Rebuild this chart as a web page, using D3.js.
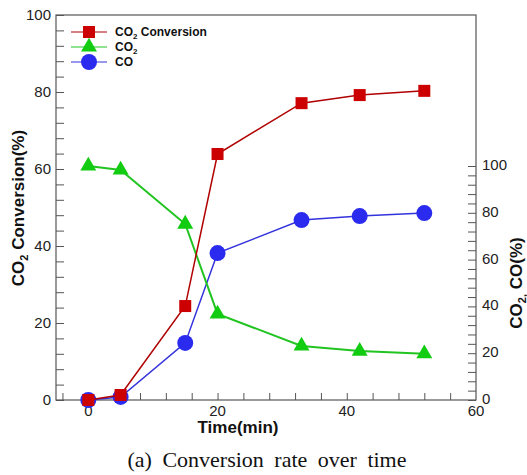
<!DOCTYPE html>
<html>
<head>
  <meta charset="utf-8">
  <script src="https://cdnjs.cloudflare.com/ajax/libs/d3/7.8.5/d3.min.js"></script>
  <style>
    body { margin: 0; background: #fff; }
  </style>
</head>
<body>
<script>
// time points (min)
var tiempo = [0, 5, 15, 20, 33, 42, 52];
// CO2 conversion, left axis (%)
var conversion = [0, 1.3, 24.4, 63.9, 77.1, 79.2, 80.3];
// right axis (%)
var co2 = [100, 98.3, 75.2, 36.8, 23.1, 20.9, 19.8];
var co = [0, 1.3, 24.4, 62.8, 76.9, 78.6, 79.9];

var xTicks = [0, 20, 40, 60];
var yTicks = [0, 20, 40, 60, 80, 100];
var y2Ticks = [0, 20, 40, 60, 80, 100];

var W = 527, H = 475;
var L = 56, R = 476, T = 15, B = 400;

var svg = d3.select("body").append("svg").attr("width", W).attr("height", H)
  .attr("font-family", "Arial, 'Liberation Sans', sans-serif");

var x = d3.scaleLinear().domain([-5, 60]).range([L, R]);
var y = d3.scaleLinear().domain([0, 100]).range([B, T]);
var y2 = d3.scaleLinear().domain([0, 100]).range([B, 166]);

// frame
svg.append("rect").attr("x", L).attr("y", T).attr("width", R - L).attr("height", B - T)
  .attr("fill", "none").attr("stroke", "#555").attr("stroke-width", 1.2);

// axes with inward ticks
var ejeX = svg.append("g").attr("transform", "translate(0," + B + ")")
  .call(d3.axisBottom(x).tickValues(d3.range(-4, 60, 4)).tickSize(-7).tickFormat(""));
var ejeY = svg.append("g").attr("transform", "translate(" + L + ",0)")
  .call(d3.axisLeft(y).tickValues(d3.range(0, 101, 4)).tickSize(-8).tickFormat(""));
var ejeY2 = svg.append("g").attr("transform", "translate(" + R + ",0)")
  .call(d3.axisRight(y2).tickValues(d3.range(0, 101, 4)).tickSize(-8).tickFormat(""));
[ejeX, ejeY, ejeY2].forEach(function(g) {
  g.select(".domain").remove();
  g.selectAll("line").attr("stroke", "#555");
});

// tick labels
svg.selectAll(".xl").data(xTicks).enter().append("text")
  .attr("x", function(d) { return x(d); }).attr("y", B + 16)
  .attr("text-anchor", "middle").attr("font-size", 15).attr("fill", "#222")
  .text(function(d) { return d; });
svg.selectAll(".yl").data(yTicks).enter().append("text")
  .attr("x", L - 5).attr("y", function(d) { return y(d) + 5; })
  .attr("text-anchor", "end").attr("font-size", 15).attr("fill", "#222")
  .text(function(d) { return d; });
svg.selectAll(".y2l").data(y2Ticks).enter().append("text")
  .attr("x", R + 6).attr("y", function(d) { return y2(d) + 4; })
  .attr("font-size", 15).attr("fill", "#222")
  .text(function(d) { return d; });

// series
var series = [
  {vals: co, esc: y2, color: "#2b2bef", linea: "#3333dd", marca: "circle"},
  {vals: co2, esc: y2, color: "#11cc11", linea: "#22c422", marca: "triangle"},
  {vals: conversion, esc: y, color: "#cc0000", linea: "#b00000", marca: "square"}
];

function marker(g, tipo, cx, cy, color) {
  if (tipo == "circle") {
    g.append("circle").attr("cx", cx).attr("cy", cy).attr("r", 8).attr("fill", color);
  } else if (tipo == "square") {
    g.append("rect").attr("x", cx - 6).attr("y", cy - 6).attr("width", 12).attr("height", 12).attr("fill", color);
  } else {
    g.append("path").attr("transform", "translate(" + cx + "," + cy + ")")
      .attr("d", d3.symbol(d3.symbolTriangle, 110)()).attr("fill", color);
  }
}

series.forEach(function(s) {
  var linea = d3.line().x(function(d, i) { return x(tiempo[i]); }).y(function(d) { return s.esc(d); });
  svg.append("path").datum(s.vals).attr("d", linea)
    .attr("fill", "none").attr("stroke", s.linea).attr("stroke-width", s.marca == "triangle" ? 2 : 1.5);
  var g = svg.append("g");
  s.vals.forEach(function(v, i) { marker(g, s.marca, x(tiempo[i]), s.esc(v), s.color); });
});

// legend
var leyenda = [
  {t: "CO", sub: "2", rest: " Conversion", color: "#cc0000", linea: "#b00000", marca: "square"},
  {t: "CO", sub: "2", rest: "", color: "#11cc11", linea: "#22c422", marca: "triangle"},
  {t: "CO", sub: "", rest: "", color: "#2b2bef", linea: "#3333dd", marca: "circle"}
];
leyenda.forEach(function(d, i) {
  var yy = 32 + i * 15;
  svg.append("line").attr("x1", 71).attr("x2", 107).attr("y1", yy).attr("y2", yy)
    .attr("stroke", d.linea).attr("stroke-width", 1);
  var g = svg.append("g");
  marker(g, d.marca, 89, yy, d.color);
  var tx = svg.append("text").attr("x", 115).attr("y", yy + 4)
    .attr("font-size", 12).attr("font-weight", "bold").attr("fill", "#111");
  tx.append("tspan").text(d.t);
  if (d.sub) tx.append("tspan").attr("font-size", 8).attr("dy", 3).text(d.sub);
  if (d.rest) tx.append("tspan").attr("dy", -3).text(d.rest);
});

// axis titles
var tY = svg.append("text").attr("transform", "translate(24,208) rotate(-90)")
  .attr("text-anchor", "middle").attr("font-size", 17).attr("font-weight", "bold").attr("fill", "#111");
tY.append("tspan").text("CO");
tY.append("tspan").attr("font-size", 11).attr("dy", 4).text("2");
tY.append("tspan").attr("dy", -4).text(" Conversion(%)");

var tY2 = svg.append("text").attr("transform", "translate(522,283) rotate(-90)")
  .attr("text-anchor", "middle").attr("font-size", 17).attr("font-weight", "bold").attr("fill", "#111");
tY2.append("tspan").text("CO");
tY2.append("tspan").attr("font-size", 11).attr("dy", 4).text("2,");
tY2.append("tspan").attr("dy", -4).text(" CO(%)");

svg.append("text").attr("x", 238).attr("y", 433).attr("text-anchor", "middle")
  .attr("font-size", 17).attr("font-weight", "bold").attr("fill", "#111").text("Time(min)");

svg.append("text").attr("x", 267).attr("y", 467).attr("text-anchor", "middle")
  .attr("font-family", "'Liberation Serif', 'Times New Roman', serif")
  .attr("font-size", 22).attr("word-spacing", 5).attr("fill", "#111")
  .text("(a) Conversion rate over time");
</script>
</body>
</html>
